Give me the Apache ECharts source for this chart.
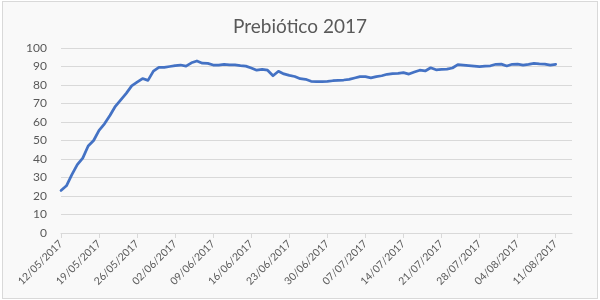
<!DOCTYPE html>
<html>
<head>
<meta charset="utf-8">
<script src="https://cdn.jsdelivr.net/npm/echarts@6/dist/echarts.min.js"></script>
<style>
html,body{margin:0;padding:0;background:#ffffff;}
#wrap{position:relative;width:600px;height:300px;}
#frame{position:absolute;left:2px;top:1px;width:594px;height:296px;border:1px solid #d9d9d9;background:#f9f9f9;}
#chart{position:absolute;left:0;top:0;width:600px;height:300px;}
</style>
</head>
<body>
<div id="wrap"><div id="frame"></div><div id="chart"></div></div>
<script>
const titleText = 'Prebiótico 2017';
const startDate = [2017, 5, 12];   // 12/05/2017
const axisDays = 95;               // 12/05/2017 .. 14/08/2017
const values = [
  23, 25.5, 31.5, 37, 40.5, 47, 50, 55.5, 59, 63.5,
  68.5, 72, 75.5, 79.5, 81.5, 83.5, 82.5, 87.5, 89.5, 89.5,
  90, 90.5, 90.8, 90.2, 92, 93, 91.8, 91.7, 90.8, 90.8,
  91.2, 90.9, 90.9, 90.5, 90.2, 89.2, 88, 88.4, 88, 85,
  87.4, 86, 85.2, 84.6, 83.4, 83.1, 82, 81.8, 81.8, 81.9,
  82.3, 82.5, 82.7, 83, 83.8, 84.5, 84.5, 83.9, 84.5, 85,
  85.8, 86.2, 86.3, 86.7, 85.9, 87, 88, 87.6, 89.3, 88.2,
  88.4, 88.6, 89.2, 91, 90.8, 90.5, 90.2, 89.9, 90.2, 90.4,
  91.2, 91.3, 90.3, 91.2, 91.3, 90.8, 91.2, 91.7, 91.4, 91.3,
  90.8, 91.2
];
const yTicks = [0, 10, 20, 30, 40, 50, 60, 70, 80, 90, 100];

function pad(n){ return (n < 10 ? '0' : '') + n; }
const categories = [];
for (let i = 0; i < axisDays; i++) {
  const d = new Date(Date.UTC(startDate[0], startDate[1] - 1, startDate[2] + i));
  categories.push(pad(d.getUTCDate()) + '/' + pad(d.getUTCMonth() + 1) + '/' + d.getUTCFullYear());
}

const chart = echarts.init(document.getElementById('chart'), null, {renderer: 'canvas'});
const font = 'Lato, "Liberation Sans", sans-serif';
chart.setOption({
  animation: false,
  backgroundColor: 'transparent',
  title: {
    text: titleText,
    left: 'center',
    top: 12,
    textStyle: {fontFamily: font, fontSize: 19, fontWeight: 'normal', color: '#595959'}
  },
  grid: {left: 61, right: 28, top: 48, bottom: 67, containLabel: false},
  xAxis: {
    type: 'category',
    data: categories,
    boundaryGap: false,
    axisLine: {show: true, lineStyle: {color: '#d9d9d9', width: 1}},
    axisTick: {show: true, interval: 6, length: 5, lineStyle: {color: '#d9d9d9'}},
    axisLabel: {interval: 6, rotate: 45, margin: 9, fontFamily: font, fontSize: 10.5, color: '#595959'},
    splitLine: {show: false}
  },
  yAxis: {
    type: 'value',
    min: yTicks[0],
    max: yTicks[yTicks.length - 1],
    interval: 10,
    axisLine: {show: false},
    axisTick: {show: false},
    axisLabel: {margin: 14, fontFamily: font, fontSize: 12, color: '#595959'},
    splitLine: {lineStyle: {color: '#d9d9d9', width: 1}}
  },
  series: [{
    type: 'line',
    data: values,
    showSymbol: false,
    symbol: 'none',
    lineStyle: {color: '#4472c4', width: 2.75, cap: 'round', join: 'round'},
    itemStyle: {color: '#4472c4'}
  }]
});
</script>
</body>
</html>
